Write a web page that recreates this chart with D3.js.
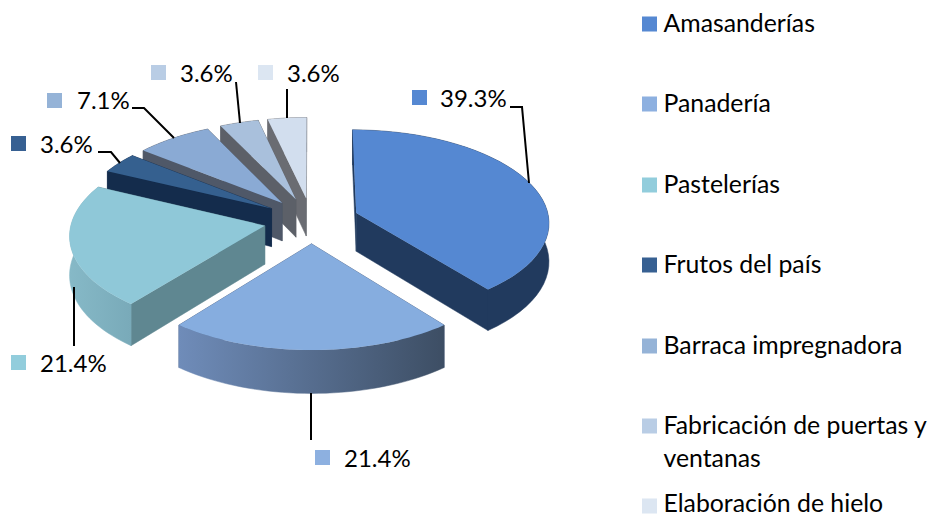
<!DOCTYPE html>
<html><head><meta charset="utf-8">
<script src="https://cdn.jsdelivr.net/npm/d3@7/dist/d3.min.js"></script>
<style>html,body{margin:0;padding:0;background:#fff;overflow:hidden}svg{display:block}text{font-family:Lato,"Noto Sans",sans-serif;fill:#000}</style>
</head><body><svg id="c" width="930" height="517"></svg>
<script>
const categories = ["Amasanderías","Panadería","Pastelerías","Frutos del país","Barraca impregnadora","Fabricación de puertas y ventanas","Elaboración de hielo"];
const values = [39.3,21.4,21.4,3.6,7.1,3.6,3.6];
const valueLabels = ["39.3%","21.4%","21.4%","3.6%","7.1%","3.6%","3.6%"];
const legendColors = ["#5588d2","#8db0e0","#92cddc","#376092","#95b3d7","#b9cde5","#dce6f2"];
const topColors = ["#5588d2","#86addf","#8fc8d8","#35608f","#8aaad4","#a9c0dc","#d2deee"];
const wallColors = ["#213a5e","#4a5f80","#5f8791","#142c4c","#4f5868","#5c6068","#6a6c72"];
const arcWallStart = ["#213a5e","#6f8cb9","#86b9c7","#142c4c","#4f5868","#5c6068","#6a6c72"];
const arcWallEnd = ["#213a5e","#3d4e64","#79aab9","#142c4c","#4f5868","#5c6068","#6a6c72"];
const legendRows = [24,104,185,265,346,426,506];
const labelLayout = [
 {sx:412,sy:90,tx:440,by:107,leader:[[510,107],[522,107],[529,183]]},
 {sx:315,sy:450,tx:344,by:467,leader:[[311,393],[311,440]]},
 {sx:11,sy:355,tx:40,by:372,leader:[[74,287],[74,346]]},
 {sx:11,sy:136,tx:40,by:153,leader:[[98,152],[111,152],[120,163]]},
 {sx:47,sy:93,tx:77,by:109,leader:[[132,108],[144,108],[174,138]]},
 {sx:151,sy:65,tx:180,by:82,leader:[[236,82],[240,123]]},
 {sx:258,sy:65,tx:287,by:82,leader:[[287,89],[287,118]]}
];
const FONT = 24, LEGEND_FONT = 24.8;
const cx=311.5, cy=220.5, R=193, explode=47.7, ky=.477, persp=.091, depth=38.5;
const svg = d3.select("#c");
const defs = svg.append("defs");
const pie = d3.pie().sort(null).value(d=>d)(values);
// perspective projection of a pie-plane point (u to the right, v towards the viewer)
function proj(u,v,down){
  const s = 1/(1 - persp*v/R);
  return [cx+u*s, cy+ky*v*s+(down?depth*s:0)];
}
const line = d3.line();
function slicePts(d,down){
  const mid=(d.startAngle+d.endAngle)/2;
  const ox=explode*Math.sin(mid), oy=-explode*Math.cos(mid);
  const rim=d3.range(0,41).map(i=>{
    const a=d.startAngle+(d.endAngle-d.startAngle)*i/40;
    return proj(ox+R*Math.sin(a),oy-R*Math.cos(a),down);
  });
  return {apex:proj(ox,oy,down),rim};
}
const order=[6,5,4,3,2,0,1];
order.forEach(i=>{
  const d=pie[i], t=slicePts(d,false), b=slicePts(d,true), g=svg.append("g");
  const last=t.rim.length-1;
  const id="w"+i, xs=t.rim.map(p=>p[0]);
  const lg=defs.append("linearGradient").attr("id",id).attr("gradientUnits","userSpaceOnUse")
    .attr("x1",d3.min(xs)).attr("x2",d3.max(xs)).attr("y1",0).attr("y2",0);
  lg.append("stop").attr("offset",0).attr("stop-color",arcWallStart[i]);
  lg.append("stop").attr("offset",1).attr("stop-color",arcWallEnd[i]);
  g.append("path").attr("d",line([t.apex,t.rim[last],b.rim[last],b.apex])+"Z").attr("fill",wallColors[i]).attr("stroke",wallColors[i]).attr("stroke-width",.5);
  g.append("path").attr("d",line([t.apex,t.rim[0],b.rim[0],b.apex])+"Z").attr("fill",wallColors[i]).attr("stroke",wallColors[i]).attr("stroke-width",.5);
  g.append("path").attr("d",line(t.rim.concat(b.rim.slice().reverse()))+"Z").attr("fill",`url(#${id})`).attr("stroke",`url(#${id})`).attr("stroke-width",.5);
  g.append("path").attr("d",line([t.apex,...t.rim])+"Z").attr("fill",topColors[i]);
});
// leaders and value labels
labelLayout.forEach((l,i)=>{
  svg.append("path").attr("d",line(l.leader)).attr("fill","none").attr("stroke","#000").attr("stroke-width",2);
  svg.append("rect").attr("x",l.sx).attr("y",l.sy).attr("width",15).attr("height",15).attr("fill",legendColors[i]);
  svg.append("text").attr("x",l.tx).attr("y",l.by).attr("font-size",FONT).text(valueLabels[i]);
});
// legend
const lines=[["Amasanderías"],["Panadería"],["Pastelerías"],["Frutos del país"],["Barraca impregnadora"],["Fabricación de puertas y","ventanas"],["Elaboración de hielo"]];
const legendBaselines=[32,112,193,273,354,434,511.5];
categories.forEach((c,i)=>{
  const y=legendRows[i];
  svg.append("rect").attr("x",642).attr("y",y-7.5).attr("width",15).attr("height",15).attr("fill",legendColors[i]);
  const tx=svg.append("text").attr("font-size",LEGEND_FONT);
  lines[i].forEach((s,j)=>tx.append("tspan").attr("x",663.5).attr("y",legendBaselines[i]+j*33).text(s));
});
</script></body></html>
